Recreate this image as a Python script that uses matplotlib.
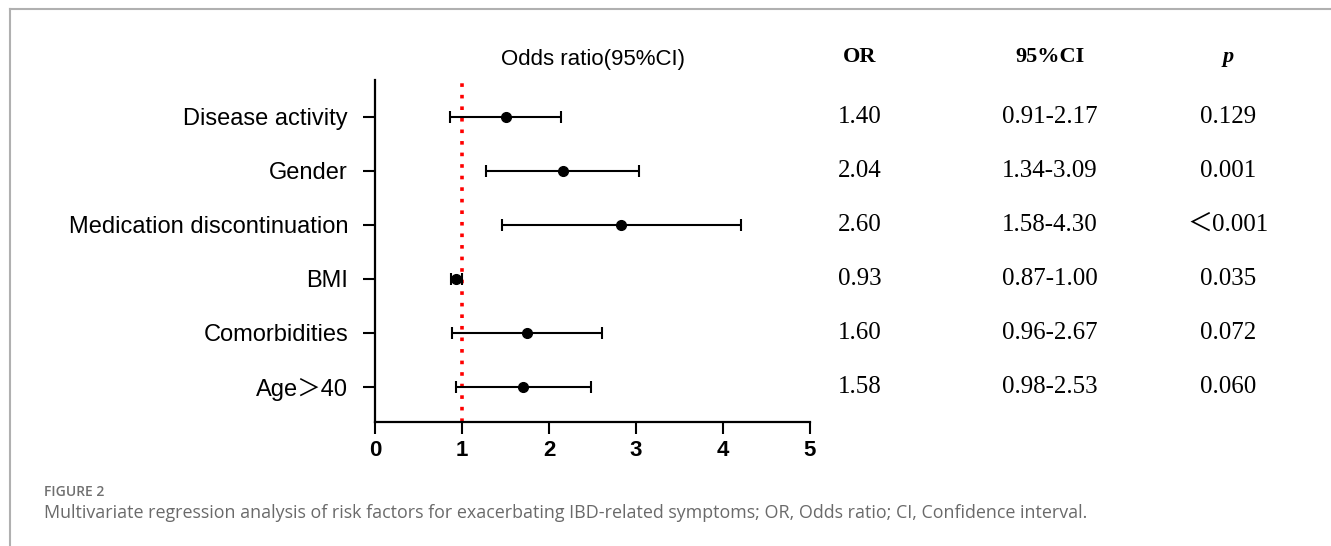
import matplotlib.pyplot as plt

# data
factors = ["Disease activity", "Gender", "Medication discontinuation",
           "BMI", "Comorbidities", "Age\uff1e40"]
or_point = [1.50, 2.16, 2.83, 0.935, 1.75, 1.70]
ci_low = [0.86, 1.28, 1.46, 0.87, 0.885, 0.93]
ci_high = [2.14, 3.04, 4.21, 1.00, 2.61, 2.48]

# table columns on the right
or_text = ["1.40", "2.04", "2.60", "0.93", "1.60", "1.58"]
ci_text = ["0.91-2.17", "1.34-3.09", "1.58-4.30", "0.87-1.00", "0.96-2.67", "0.98-2.53"]
p_text = ["0.129", "0.001", "\uff1c0.001", "0.035", "0.072", "0.060"]
x_ticks = [0, 1, 2, 3, 4, 5]

W, H = 1331, 546
fig = plt.figure(figsize=(W / 100, H / 100), dpi=100)

# frame lines of the figure panel (top and left)
fig.add_artist(plt.Line2D([9.5 / W, 0.999], [1 - 8.5 / H, 1 - 8.5 / H], color="#b0b0b0", lw=1.5))
fig.add_artist(plt.Line2D([9.5 / W, 9.5 / W], [0.0, 1 - 8.5 / H], color="#b0b0b0", lw=1.5))

left, right, bottom, top = 375, 810, 422, 80
ax = fig.add_axes([left / W, 1 - bottom / H, (right - left) / W, (bottom - top) / H])

n = len(factors)
ypos = list(range(n, 0, -1))
for y, m, lo, hi in zip(ypos, or_point, ci_low, ci_high):
    ax.errorbar(m, y, xerr=[[m - lo], [hi - m]], fmt="o", color="black",
                ms=7, elinewidth=1.5, capsize=4, capthick=1.5)

# reference line at OR = 1
ax.axvline(1, color="red", ls=(0, (1, 2.2)), lw=2.6, zorder=0)

ax.set_xlim(0, 5)
ax.set_ylim(0.35, 6.685)
ax.set_yticks(ypos)
ax.set_yticklabels(factors, fontsize=17, family=["Liberation Sans", "Noto Sans CJK SC"])
ax.set_xticks(x_ticks)
ax.set_xticklabels([str(t) for t in x_ticks], fontsize=16, fontweight="bold",
                   family="Liberation Sans")
for s in ["top", "right"]:
    ax.spines[s].set_visible(False)
for s in ["left", "bottom"]:
    ax.spines[s].set_linewidth(1.6)
ax.tick_params(axis="y", length=8.6, width=1.5, pad=10.8)
ax.tick_params(axis="x", length=8.6, width=1.5, pad=4.5)

ax.text((593 - left) / (right - left), (bottom - 60) / (bottom - top), "Odds ratio(95%CI)",
        transform=ax.transAxes, ha="center", va="center", fontsize=16,
        family="Liberation Sans")

# table to the right of the plot
col_x = [860, 1050, 1228]
headers = ["OR", "95%CI", "p"]
for cx, hd in zip(col_x, headers):
    style = "italic" if hd == "p" else "normal"
    fig.text(cx / W, 1 - 57 / H, hd, ha="center", va="center", fontsize=16,
             fontweight="bold", fontstyle=style, family="Liberation Serif")

for y, a, b, c in zip(ypos, or_text, ci_text, p_text):
    yy = ax.transData.transform((0, y))[1] / H
    for cx, t in zip(col_x, [a, b, c]):
        fig.text(cx / W, yy, t, ha="center", va="center", fontsize=18,
                 family=["Liberation Serif", "Noto Sans CJK SC"])

# caption
fig.text(44 / W, 1 - 492 / H, "FIGURE 2", ha="left", va="center", fontsize=10,
         fontweight="semibold", color="#707070", family="Open Sans")
fig.text(44 / W, 1 - 513 / H,
         "Multivariate regression analysis of risk factors for exacerbating IBD-related symptoms; "
         "OR, Odds ratio; CI, Confidence interval.",
         ha="left", va="center", fontsize=12.9, color="#6a6a6a", family="Open Sans")

fig.savefig("out.png", dpi=100)
